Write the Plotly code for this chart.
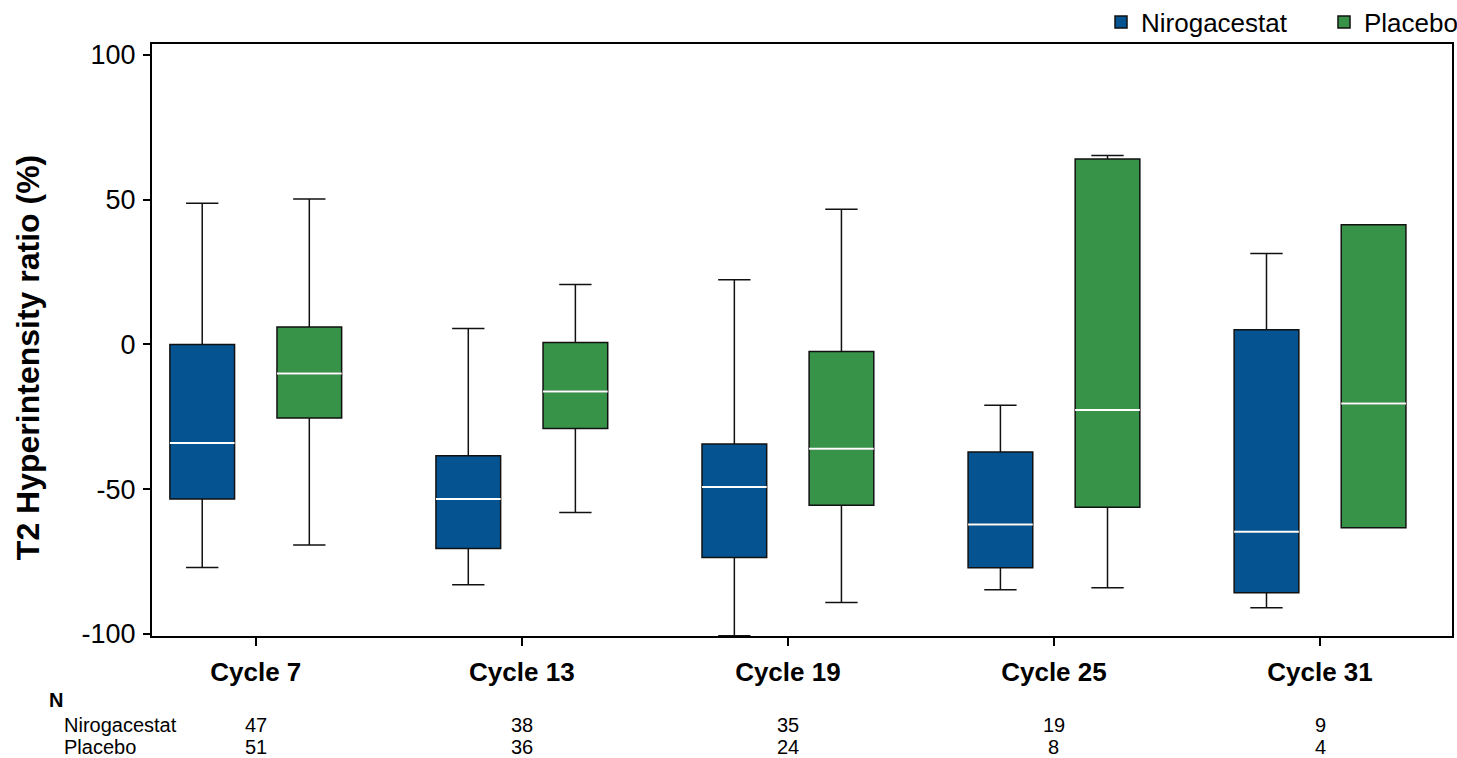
import plotly.graph_objects as go

cycles = ["Cycle 7", "Cycle 13", "Cycle 19", "Cycle 25", "Cycle 31"]

niro_low = [-77, -83, -100.6, -84.7, -90.9]
niro_q1 = [-53.4, -70.5, -73.6, -77.1, -85.8]
niro_med = [-34, -53.4, -49.2, -62.2, -64.7]
niro_q3 = [0, -38.4, -34.4, -37.1, 5.1]
niro_high = [48.8, 5.5, 22.4, -21, 31.4]

plac_low = [-69.3, -58, -89.1, -84, -63.3]
plac_q1 = [-25.4, -29, -55.5, -56.2, -63.3]
plac_med = [-10, -16.2, -36, -22.6, -20.4]
plac_q3 = [6, 0.7, -2.4, 64.1, 41.4]
plac_high = [50.3, 20.7, 46.7, 65.3, 41.4]

n_niro = [47, 38, 35, 19, 9]
n_plac = [51, 36, 24, 8, 4]

y_ticks = [100, 50, 0, -50, -100]

BLUE = "#055491"
GREEN = "#379347"
FONT = "Arial, Liberation Sans, sans-serif"

fig = go.Figure()

def add_box(name, group, color, low, q1, med, q3, high):
    fig.add_trace(go.Box(
        x=cycles, lowerfence=low, q1=q1, median=med, q3=q3, upperfence=high,
        name=name, offsetgroup=group, fillcolor=color,
        line=dict(color="#111111", width=1.5), whiskerwidth=0.5,
        boxpoints=False, hoverinfo="skip",
    ))

def add_median(group, med):
    fig.add_trace(go.Box(
        x=cycles, lowerfence=med, q1=med, median=med, q3=med, upperfence=med,
        name=group + "_med", offsetgroup=group, fillcolor="rgba(0,0,0,0)",
        line=dict(color="white", width=2), whiskerwidth=0,
        boxpoints=False, showlegend=False, hoverinfo="skip",
    ))

add_box("Nirogacestat", "n", BLUE, niro_low, niro_q1, niro_med, niro_q3, niro_high)
add_box("Placebo", "p", GREEN, plac_low, plac_q1, plac_med, plac_q3, plac_high)
add_median("n", niro_med)
add_median("p", plac_med)

TFS = 20
Y_N, Y_R1, Y_R2 = -0.108, -0.151, -0.188
annotations = [
    dict(text="<b>T2 Hyperintensity ratio (%)</b>", textangle=-90, x=-0.0954, xref="paper", y=0.471,
         yref="paper", xanchor="center", yanchor="middle", showarrow=False,
         font=dict(size=32, color="black", family=FONT)),
    dict(text="<b>N</b>", x=-0.0738, xref="paper", y=Y_N, yref="paper",
         xanchor="center", yanchor="middle", showarrow=False, font=dict(size=TFS, color="black", family=FONT)),
    dict(text="Nirogacestat", x=-0.0692, xref="paper", y=Y_R1, yref="paper",
         xanchor="left", yanchor="middle", showarrow=False, font=dict(size=TFS, color="black", family=FONT)),
    dict(text="Placebo", x=-0.0692, xref="paper", y=Y_R2, yref="paper",
         xanchor="left", yanchor="middle", showarrow=False, font=dict(size=TFS, color="black", family=FONT)),
]
for c, a, b in zip(cycles, n_niro, n_plac):
    annotations.append(dict(text=str(a), x=c, xref="x", y=Y_R1, yref="paper", xanchor="center",
                            yanchor="middle", showarrow=False, font=dict(size=TFS, color="black", family=FONT)))
    annotations.append(dict(text=str(b), x=c, xref="x", y=Y_R2, yref="paper", xanchor="center",
                            yanchor="middle", showarrow=False, font=dict(size=TFS, color="black", family=FONT)))

fig.update_layout(
    width=1457, height=758,
    margin=dict(l=152, r=5, t=44, b=122, autoexpand=False),
    paper_bgcolor="white", plot_bgcolor="white",
    boxmode="group", boxgap=0.195, boxgroupgap=0.396,
    font=dict(family=FONT, color="black"),
    legend=dict(orientation="h", x=0.7300, xanchor="left", y=1.037, yanchor="middle",
                entrywidth=178, entrywidthmode="pixels",
                font=dict(size=26, family=FONT, color="black"), bgcolor="rgba(0,0,0,0)"),
    annotations=annotations,
    showlegend=True,
)
fig.update_xaxes(
    type="category", categoryorder="array", categoryarray=cycles,
    range=[-0.39, 4.496],
    showline=True, linecolor="black", linewidth=2, mirror=True,
    ticks="outside", ticklen=8, tickwidth=2, tickcolor="black",
    tickfont=dict(size=26, family=FONT, color="black", weight="bold"),
    ticklabelstandoff=4,
    showgrid=False, zeroline=False,
)
fig.update_yaxes(
    range=[-100.7, 103.8], tickvals=y_ticks, ticktext=[str(v) for v in y_ticks],
    showline=True, linecolor="black", linewidth=2, mirror=True,
    ticks="outside", ticklen=7, tickwidth=2, tickcolor="black",
    tickfont=dict(size=27, family=FONT, color="black"),
    ticklabelstandoff=2,
    showgrid=False, zeroline=False,
)

fig.write_html("out.html", config={"displayModeBar": False},
               post_script="document.body.style.margin='0';document.body.style.overflow='hidden';")
